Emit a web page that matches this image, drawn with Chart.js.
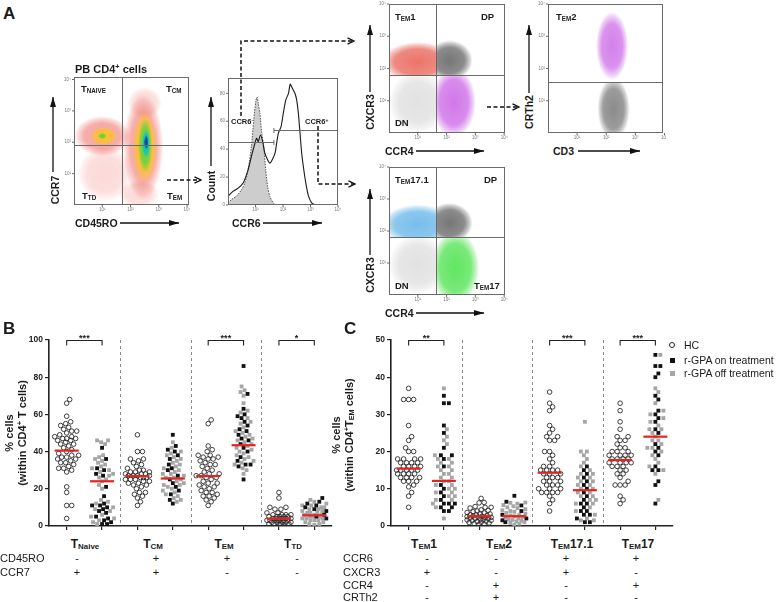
<!DOCTYPE html>
<html>
<head>
<meta charset="utf-8">
<title>CD4 T cell subsets</title>
<script src="https://cdn.jsdelivr.net/npm/chart.js@4.4.1/dist/chart.umd.min.js"></script>
<style>
  html, body { margin: 0; background: #fff; }
  #fig { position: relative; width: 778px; height: 602px; overflow: hidden;
         font-family: Arial, "Liberation Sans", Helvetica, sans-serif; color: #1b1b1b; }
  #fig canvas { position: absolute; }
  .t { position: absolute; white-space: nowrap; line-height: 1; }
  .b { font-weight: bold; }
  .c { transform: translateX(-50%); }
  .r { transform: translate(-50%, -50%) rotate(-90deg); text-align: center; }
  .r2 { line-height: 13px; }
  .t sub { font-size: 0.66em; vertical-align: -0.12em; line-height: 0; }
  .t sup { font-size: 0.66em; vertical-align: 0.5em; line-height: 0; }
  .mk { position: absolute; box-sizing: border-box; }
  svg { position: absolute; left: 0; top: 0; }
</style>
</head>
<body>
<div id="fig">
  <div id="plots"></div>
  <div id="labels"></div>
  <svg width="778" height="602">
    <defs>
      <marker id="tri" viewBox="0 0 10 6" refX="10" refY="3" markerWidth="10" markerHeight="6"
              markerUnits="userSpaceOnUse" orient="auto"><path d="M0,0L10,3L0,6z" fill="#111"/></marker>
      <marker id="chev" viewBox="0 0 8 8" refX="7.5" refY="4" markerWidth="8" markerHeight="8"
              markerUnits="userSpaceOnUse" orient="auto"><path d="M1,0.8L7.5,4L1,7.2" fill="none" stroke="#111" stroke-width="1.3"/></marker>
    </defs>
    <!-- axis arrows -->
    <g stroke="#111" stroke-width="1.3" fill="none" marker-end="url(#tri)">
      <path d="M53,172V97"/>
      <path d="M120,223H179"/>
      <path d="M211,166V97"/>
      <path d="M263,223H322"/>
      <path d="M370,92V25"/>
      <path d="M416,151H484"/>
      <path d="M529,93V25"/>
      <path d="M578,151H640"/>
      <path d="M370,255V189"/>
      <path d="M416,313H484"/>
    </g>
    <!-- gating flow -->
    <g stroke="#111" stroke-width="1.5" stroke-dasharray="4 2.5" fill="none" marker-end="url(#chev)">
      <path d="M167,180H201"/>
      <path d="M241,116V41H354"/>
      <path d="M318,126V184H355"/>
      <path d="M487,107H519"/>
    </g>
  </svg>
</div>
<script>
// ---------------- panel A (positions in log decades) ----------------
const flowTicks = [1, 2, 3, 4];
const flowTickText = ['10¹', '10²', '10³', '10⁴'];

// CD45RO x CCR7 pseudocolour clouds: centre and half spread
const pbSparse = [{x:1.1,y:1.0,w:0.95,h:0.9}, {x:2.3,y:0.35,w:0.7,h:0.45}, {x:2.5,y:3.25,w:0.6,h:0.5}];
const pbRed    = [{x:1.0,y:2.2,w:1.0,h:0.65}, {x:2.45,y:1.85,w:0.72,h:1.7}];
const pbYellow = [{x:1.05,y:2.2,w:0.45,h:0.3}, {x:2.5,y:1.85,w:0.42,h:1.15}];
const pbGreen  = [{x:2.52,y:1.9,w:0.26,h:0.85}, {x:1.0,y:2.2,w:0.15,h:0.1}];
const pbCyan   = [{x:2.55,y:1.95,w:0.15,h:0.45}];
const pbBlue   = [{x:2.56,y:2.0,w:0.07,h:0.22}];
const pbGate = {x: 1.69, y: 1.92};

// CCR6 histogram (isotype shaded vs stained)
const isoX  = [0, 0.12, 0.30, 0.49, 0.61, 0.73, 0.85, 0.94, 1.01, 1.06, 1.10, 1.16, 1.22, 1.30, 1.37, 1.44, 1.52, 1.65, 1.77];
const isoY  = [1.4, 3.8, 6.2, 10.9, 15.7, 25.2, 41.9, 61.4, 74.3, 77.4, 72.8, 65.7, 52.6, 41.9, 25.2, 13.3, 6.2, 1.4, 0];
const ccr6X = [0, 0.18, 0.37, 0.55, 0.73, 0.85, 0.98, 1.04, 1.10, 1.18, 1.26, 1.34, 1.44, 1.52, 1.61, 1.71, 1.77, 1.83,
               1.93, 2.01, 2.10, 2.20, 2.26, 2.32, 2.38, 2.44, 2.50, 2.56, 2.62, 2.68, 2.74, 2.83, 2.93, 3.05, 3.17];
const ccr6Y = [6.2, 9.8, 12.1, 15.7, 25.2, 34.7, 44.3, 47.8, 45.5, 50.2, 45.5, 37.1, 32.4, 30.0, 32.4, 37.1, 44.3, 51.4,
               56.2, 65.7, 75.2, 80.0, 86.6, 84.5, 82.1, 79.7, 75.0, 65.5, 51.2, 37.1, 27.6, 15.7, 6.2, 1.4, 0];
const histYTicks = [0, 20, 40, 60, 80];
const ccr6Neg = {x0: 0, x1: 1.67, y: 45.2};
const ccr6Pos = {x0: 1.67, x1: 4, y: 53.6};

// CCR4 x CXCR3 (CCR6- and CCR6+) and CD3 x CRTh2
const cxGate = {x: 1.65, y: 1.8};
const tem1Red    = [{x:1.0,y:2.2,w:1.25,h:0.62}];
const dpGray     = [{x:2.1,y:2.25,w:0.8,h:0.62}];
const dnGray     = [{x:1.0,y:0.95,w:1.0,h:0.95}];
const tem1Purple = [{x:2.25,y:0.95,w:0.75,h:1.1}];
const crthGate = 1.58;
const tem2Purple = [{x:2.2,y:2.7,w:0.55,h:1.05}];
const tem2Gray   = [{x:2.25,y:0.75,w:0.55,h:0.95}];
const tem171Blue = [{x:1.0,y:2.2,w:1.25,h:0.62}];
const tem17Green = [{x:2.3,y:0.85,w:0.85,h:1.15}];

// ---------------- panel B: % of CD4+ T cells ----------------
const bNaiveHC  = [68, 66, 59, 56, 55, 54, 53, 52, 51, 51, 50, 49, 48, 48, 47, 47, 47, 46, 46, 45, 44, 44, 43, 42, 41, 40, 39, 38, 38, 37, 37, 36, 36, 35, 34, 34, 33, 32, 31, 31, 30, 29, 21, 18, 11, 11, 4];
const bNaiveOn  = [42, 36, 31, 30, 28, 27, 21, 16, 12, 11, 11, 10, 9, 8, 7, 5, 4, 3, 2, 1, 1];
const bNaiveOff = [46, 46, 45, 44, 38, 37, 36, 35, 34, 33, 32, 31, 30, 29, 28, 27, 26, 25, 24, 22, 20, 14, 13, 12, 10, 9, 8, 6, 5, 4, 3, 2, 1];
const bCmHC  = [49, 40, 40, 36, 36, 35, 34, 33, 32, 31, 30, 30, 29, 29, 29, 28, 28, 28, 27, 27, 27, 27, 26, 26, 26, 25, 25, 25, 24, 24, 23, 23, 22, 22, 21, 20, 18, 18, 17, 16, 15, 13, 11];
const bCmOn  = [49, 43, 41, 40, 38, 36, 33, 31, 30, 27, 25, 23, 21, 19, 17, 14, 12];
const bCmOff = [45, 42, 40, 39, 38, 37, 36, 35, 34, 33, 32, 31, 30, 29, 28, 28, 27, 26, 26, 25, 24, 23, 22, 22, 21, 20, 19, 18, 17, 16, 15, 14, 13];
const bEmHC  = [57, 55, 43, 41, 40, 38, 38, 37, 37, 36, 36, 35, 34, 33, 33, 32, 31, 30, 29, 28, 28, 27, 27, 26, 26, 25, 24, 23, 23, 22, 21, 21, 20, 19, 18, 18, 17, 16, 16, 15, 14, 13, 11];
const bEmOn  = [86, 71, 63, 60, 59, 58, 56, 54, 52, 51, 49, 47, 46, 44, 42, 40, 37, 35, 33, 33, 32, 25];
const bEmOff = [75, 73, 72, 70, 66, 62, 61, 58, 56, 55, 53, 51, 50, 49, 48, 47, 46, 45, 44, 43, 42, 41, 40, 39, 38, 37, 36, 35, 34, 33, 31, 30, 28];
const bTdHC  = [18, 15, 10, 10, 9, 9, 7, 7, 6, 6, 6, 6, 5, 5, 5, 5, 5, 4, 4, 4, 4, 4, 4, 3, 3, 3, 3, 3, 3, 3, 2, 2, 2, 2, 2, 1, 1, 1, 1, 0.5, 0.5];
const bTdOn  = [15, 13, 12, 11, 10, 9, 8, 6, 5, 4];
const bTdOff = [14, 13, 12, 11, 11, 10, 10, 9, 9, 8, 8, 7, 7, 7, 6, 6, 6, 5, 5, 5, 4, 4, 4, 3, 3, 3, 2, 2, 1, 1, 0.5];
const bMeans = [40.5, 24, 26.8, 25.5, 26.8, 43.4, 3.9, 5.7];
const bBrackets = [[0.5, 1.5, '***'], [4.5, 5.5, '***'], [6.5, 7.5, '*']];
const bCats = ['T<sub>Naive</sub>', 'T<sub>CM</sub>', 'T<sub>EM</sub>', 'T<sub>TD</sub>'];
const bRows = ['CD45RO', 'CCR7'];
const bSigns = [['-', '+', '+', '-'], ['+', '+', '-', '-']];

// ---------------- panel C: % of CD4+ TEM cells ----------------
const cEm1HC  = [37, 34, 34, 34, 27, 24, 23, 21, 20, 20, 18, 18, 18, 18, 17, 17, 17, 17, 16, 16, 16, 16, 15, 15, 15, 15, 15, 14, 14, 14, 14, 13, 13, 13, 13, 12, 12, 12, 11, 10.5, 9, 8, 5];
const cEm1On  = [35, 33, 33, 27, 25, 21, 19, 19, 18, 16, 11, 10, 9, 8, 7, 6, 6, 6, 5, 5, 4, 4];
const cEm1Off = [37, 26, 24, 23, 22, 19, 18, 18, 17, 17, 16, 16, 15, 15, 14, 14, 13, 13, 12, 12, 11, 11, 10, 10, 9, 9, 8, 8, 7, 7, 6, 5, 2];
const cEm2HC  = [7.4, 6.3, 6.2, 5.2, 5.0, 5.0, 4.8, 4.3, 4.2, 4.0, 3.8, 3.6, 3.5, 3.3, 3.2, 3.0, 3.0, 2.8, 2.7, 2.6, 2.5, 2.4, 2.3, 2.2, 2.1, 2.0, 2.0, 1.8, 1.7, 1.6, 1.5, 1.4, 1.3, 1.2, 1.0, 0.9, 0.8, 0.6, 0.5, 0.4];
const cEm2On  = [8.1, 6.5, 5.5, 4.0, 3.0, 2.0, 1.5, 1.0];
const cEm2Off = [6.3, 6.2, 6.0, 5.6, 5.3, 5.0, 4.8, 4.5, 4.2, 4.0, 3.8, 3.5, 3.3, 3.0, 2.8, 2.6, 2.4, 2.2, 2.0, 1.8, 1.6, 1.4, 1.2, 1.0, 0.8, 0.6, 0.3];
const cEm171HC  = [36, 33, 32, 31, 27, 26, 25, 24, 24, 23, 23, 20, 20, 19, 18, 17, 16, 16, 15, 15, 15, 15, 14, 14, 14, 13, 13, 13, 12, 12, 12, 11, 11, 11, 10, 10, 10, 9, 9, 9, 9, 8, 7, 6, 4];
const cEm171On  = [16, 15, 14, 13, 12, 11, 10, 9, 8, 7, 6, 6, 5, 4, 4, 3, 3, 2, 1, 1];
const cEm171Off = [28, 20, 20, 19, 18, 17, 16, 15, 14, 14, 13, 13, 12, 12, 11, 11, 10, 10, 9, 9, 8, 8, 7, 7, 6, 6, 5, 4, 3, 2, 1.5, 1.5];
const cEm17HC  = [33, 31, 28, 26, 24, 24, 23, 23, 22, 21, 21, 20, 20, 20, 19, 19, 19, 19, 18, 18, 18, 18, 17, 17, 17, 17, 16, 16, 16, 15, 15, 14, 14, 13, 12, 11, 11, 11, 8, 7, 6];
const cEm17On  = [46, 43, 43, 41, 40, 35, 34, 31, 30, 29, 28, 26, 25, 22, 21, 20, 19, 16, 15, 15, 12, 11, 6];
const cEm17Off = [46, 37, 36, 33, 31, 30, 29, 28, 27, 26, 26, 25, 24, 23, 23, 22, 21, 21, 20, 19, 18, 17, 16, 15, 14, 7];
const cMeans = [15.4, 12.1, 2.6, 2.6, 14.3, 9.6, 17.7, 24];
const cBrackets = [[0.5, 1.5, '**'], [4.5, 5.5, '***'], [6.5, 7.5, '***']];
const cCats = ['T<sub>EM</sub>1', 'T<sub>EM</sub>2', 'T<sub>EM</sub>17.1', 'T<sub>EM</sub>17'];
const cRows = ['CCR6', 'CXCR3', 'CCR4', 'CRTh2'];
const cSigns = [['-', '-', '+', '+'], ['+', '-', '+', '-'], ['-', '+', '-', '+'], ['-', '+', '-', '-']];
const groupSeps = [2, 4, 6];

// ---------------- helpers ----------------
Chart.defaults.font.family = 'Arial, "Liberation Sans", sans-serif';
Chart.defaults.color = '#1b1b1b';
const plots = document.getElementById('plots');
const labels = document.getElementById('labels');

function addCanvas(x, y, w, h) {
  const cv = document.createElement('canvas');
  cv.width = w; cv.height = h;
  cv.style.cssText = `left:${x}px;top:${y}px;width:${w}px;height:${h}px`;
  plots.appendChild(cv);
  return cv;
}

function txt(x, y, html, size, cls) {
  const d = document.createElement('div');
  d.className = 't ' + (cls || '');
  d.style.left = x + 'px';
  d.style.top = y + 'px';
  d.style.fontSize = size + 'px';
  d.innerHTML = html;
  labels.appendChild(d);
  return d;
}

// soft elliptical cloud used as a point image
const blobCache = {};
function blobImage(rgb, alpha, rx, ry) {
  rx = Math.max(1, Math.round(rx)); ry = Math.max(1, Math.round(ry));
  const key = [rgb, alpha, rx, ry].join('|');
  if (blobCache[key]) return blobCache[key];
  const cv = document.createElement('canvas');
  cv.width = rx * 2; cv.height = ry * 2;
  const g = cv.getContext('2d');
  g.translate(rx, ry); g.scale(rx, ry);
  const grad = g.createRadialGradient(0, 0, 0, 0, 0, 1);
  grad.addColorStop(0, `rgba(${rgb},${alpha})`);
  grad.addColorStop(0.65, `rgba(${rgb},${alpha * 0.85})`);
  grad.addColorStop(0.88, `rgba(${rgb},${alpha * 0.35})`);
  grad.addColorStop(1, `rgba(${rgb},0)`);
  g.fillStyle = grad;
  g.beginPath(); g.arc(0, 0, 1, 0, Math.PI * 2); g.fill();
  return (blobCache[key] = cv);
}

function cloud(points, rgb, alpha, quad) {
  return {
    data: points, quad, pointRadius: 1, pointHoverRadius: 1, pointBorderWidth: 0,
    pointStyle: ctx => {
      const p = ctx.raw;
      if (!p || p.w == null) return 'circle';
      const xs = ctx.chart.scales.x, ys = ctx.chart.scales.y;
      const rx = Math.abs(xs.getPixelForValue(p.w) - xs.getPixelForValue(0));
      const ry = Math.abs(ys.getPixelForValue(p.h) - ys.getPixelForValue(0));
      return blobImage(rgb, alpha, rx, ry);
    }
  };
}

// frame, gates and tiny log ticks of a flow plot
function frameDecor(o) {
  return {
    id: 'frameDecor',
    beforeDatasetDraw(chart, args) {
      const q = chart.data.datasets[args.index].quad;
      if (!q) return;
      const xs = chart.scales.x, ys = chart.scales.y, c = chart.ctx, a = chart.chartArea;
      const x0 = Math.max(a.left, xs.getPixelForValue(q[0])), x1 = Math.min(a.right, xs.getPixelForValue(q[1]));
      const y0 = Math.min(a.bottom, ys.getPixelForValue(q[2])), y1 = Math.max(a.top, ys.getPixelForValue(q[3]));
      c.save(); c.beginPath(); c.rect(x0, y1, x1 - x0, y0 - y1); c.clip();
    },
    afterDatasetDraw(chart, args) {
      if (chart.data.datasets[args.index].quad) chart.ctx.restore();
    },
    afterDraw(chart) {
      const xs = chart.scales.x, ys = chart.scales.y, c = chart.ctx, a = chart.chartArea;
      c.save();
      c.strokeStyle = '#6a6a6a'; c.lineWidth = 1;
      c.strokeRect(a.left + 0.5, a.top + 0.5, a.width - 1, a.height - 1);
      c.beginPath();
      if (o.gx != null) { const px = Math.round(xs.getPixelForValue(o.gx)) + 0.5; c.moveTo(px, a.top); c.lineTo(px, a.bottom); }
      if (o.gy != null) { const py = Math.round(ys.getPixelForValue(o.gy)) + 0.5; c.moveTo(a.left, py); c.lineTo(a.right, py); }
      (o.segs || []).forEach(s => {
        const py = Math.round(ys.getPixelForValue(s.y)) + 0.5;
        const l = xs.getPixelForValue(s.x0), r = xs.getPixelForValue(s.x1);
        c.moveTo(l, py); c.lineTo(r, py);
        const tx = s.x0 > 0 ? l : r;
        c.moveTo(tx, py - 2.5); c.lineTo(tx, py + 2.5);
      });
      o.xt.forEach(v => { const px = xs.getPixelForValue(v); c.moveTo(px, a.bottom); c.lineTo(px, a.bottom + 2); });
      o.yt.forEach(v => { const py = ys.getPixelForValue(v); c.moveTo(a.left, py); c.lineTo(a.left - 2, py); });
      c.stroke();
      c.fillStyle = '#777'; c.font = '4.5px Arial';
      c.textAlign = 'center'; c.textBaseline = 'top';
      o.xt.forEach((v, i) => c.fillText(o.xl[i], xs.getPixelForValue(v), a.bottom + 3));
      c.textAlign = 'right'; c.textBaseline = 'middle';
      o.yt.forEach((v, i) => c.fillText(o.yl[i], a.left - 3, ys.getPixelForValue(v)));
      c.restore();
    }
  };
}

function flowChart(box, layers, o) {
  const pad = {left: 12, top: 3, right: 3, bottom: 10};
  const cv = addCanvas(box.x - pad.left, box.y - pad.top, box.w + pad.left + pad.right, box.h + pad.top + pad.bottom);
  layers.forEach((d, i) => { d.order = layers.length - i; });
  return new Chart(cv, {
    type: 'scatter',
    data: { datasets: layers },
    options: {
      responsive: false, animation: false, events: [],
      layout: { padding: pad },
      plugins: { legend: { display: false }, tooltip: { enabled: false } },
      scales: {
        x: { display: false, min: 0, max: o.xMax },
        y: { display: false, min: 0, max: o.yMax }
      }
    },
    plugins: [frameDecor(o)]
  });
}

// ---------------- panel A charts ----------------
const logAxes = { xt: flowTicks, xl: flowTickText, yt: flowTicks, yl: flowTickText };
const UL = [0, cxGate.x, cxGate.y, 9], UR = [cxGate.x, 9, cxGate.y, 9];
const LL = [0, cxGate.x, 0, cxGate.y], LR = [cxGate.x, 9, 0, cxGate.y];

flowChart({x: 74, y: 77, w: 115, h: 128}, [
  cloud(pbSparse, '232,45,35', 0.18),
  cloud(pbRed, '232,45,35', 0.45),
  cloud(pbYellow, '255,205,0', 0.75),
  cloud(pbGreen, '70,215,70', 0.85),
  cloud(pbCyan, '0,190,225', 0.9),
  cloud(pbBlue, '25,40,150', 0.9)
], Object.assign({xMax: 4.07, yMax: 4.08, gx: pbGate.x, gy: pbGate.y}, logAxes));

flowChart({x: 228, y: 78, w: 110, h: 127}, [
  { data: isoX.map((x, i) => ({x, y: isoY[i]})), showLine: true, fill: 'origin', backgroundColor: '#cdcdcd',
    borderColor: '#555', borderWidth: 1, borderDash: [1.5, 1.2], pointRadius: 0, tension: 0.25 },
  { data: ccr6X.map((x, i) => ({x, y: ccr6Y[i]})), showLine: true, fill: false,
    borderColor: '#1a1a1a', borderWidth: 1.1, pointRadius: 0, tension: 0.25 }
], { xMax: 4, yMax: 91, xt: flowTicks, xl: flowTickText, yt: histYTicks, yl: histYTicks.map(String),
     segs: [ccr6Neg, ccr6Pos] });

flowChart({x: 389, y: 4, w: 116, h: 129}, [
  cloud(dnGray, '110,110,110', 0.2, LL),
  cloud(tem1Red, '232,92,80', 0.85, UL),
  cloud(dpGray, '95,95,95', 0.85, UR),
  cloud(tem1Purple, '198,85,228', 0.8, LR)
], Object.assign({xMax: 4.03, yMax: 4.0, gx: cxGate.x, gy: cxGate.y}, logAxes));

flowChart({x: 548, y: 4, w: 115, h: 129}, [
  cloud(tem2Purple, '198,85,228', 0.75, [0, 9, crthGate, 9]),
  cloud(tem2Gray, '100,100,100', 0.75, [0, 9, 0, crthGate])
], Object.assign({xMax: 3.95, yMax: 4.0, gy: crthGate}, logAxes));

flowChart({x: 389, y: 167, w: 116, h: 128}, [
  cloud(dnGray, '110,110,110', 0.2, LL),
  cloud(tem171Blue, '95,178,232', 0.85, UL),
  cloud(dpGray, '95,95,95', 0.85, UR),
  cloud(tem17Green, '70,225,70', 0.85, LR)
], Object.assign({xMax: 4.03, yMax: 4.0, gx: cxGate.x, gy: cxGate.y}, logAxes));

// ---------------- panels B and C ----------------
function dotDecor(brackets) {
  return {
    id: 'dotDecor',
    beforeDatasetsDraw(chart) {
      const xs = chart.scales.x, c = chart.ctx, a = chart.chartArea;
      c.save();
      c.strokeStyle = '#8a8a8a'; c.lineWidth = 1; c.setLineDash([3, 3]);
      c.beginPath();
      groupSeps.forEach(v => {
        const px = Math.round(xs.getPixelForValue(v)) + 0.5;
        c.moveTo(px, a.top); c.lineTo(px, a.bottom);
      });
      c.stroke();
      c.restore();
    },
    afterDatasetsDraw(chart) {
      const xs = chart.scales.x, ys = chart.scales.y, c = chart.ctx;
      const t = Math.round(ys.getPixelForValue(ys.max)) + 0.5;
      c.save();
      c.strokeStyle = '#222'; c.lineWidth = 1.1;
      c.fillStyle = '#222'; c.font = 'bold 9px Arial'; c.textAlign = 'center'; c.textBaseline = 'alphabetic';
      brackets.forEach(([x0, x1, label]) => {
        const l = xs.getPixelForValue(x0), r = xs.getPixelForValue(x1);
        c.beginPath(); c.moveTo(l, t + 5); c.lineTo(l, t); c.lineTo(r, t); c.lineTo(r, t + 5); c.stroke();
        c.fillText(label, (l + r) / 2, t);
      });
      c.restore();
    }
  };
}

// bee swarm: spread equal values sideways through the chart's own scales
function swarm(chart, items, cx, dist) {
  const xs = chart.scales.x, ys = chart.scales.y;
  const pxPerUnit = xs.getPixelForValue(1) - xs.getPixelForValue(0);
  const placed = [];
  items.slice().sort((a, b) => a.v - b.v).forEach(it => {
    const py = ys.getPixelForValue(it.v);
    let best = 0, bestGap = -1;
    for (let k = 0; k <= 24; k++) {
      const off = (k % 2 ? 1 : -1) * Math.ceil(k / 2);
      let gap = Infinity;
      placed.forEach(p => { gap = Math.min(gap, Math.hypot(p.x - off, p.y - py)); });
      if (gap >= dist) { best = off; break; }
      if (gap > bestGap) { bestGap = gap; best = off; }
    }
    placed.push({x: best, y: py});
    it.x = cx + best / pxPerUnit;
  });
}

function dotChart(x, y, o) {
  const cv = addCanvas(x, y, o.w, 203);
  const centers = [0.5, 1.5, 2.5, 3.5, 4.5, 5.5, 6.5, 7.5];
  const axisStyle = {
    grid: { drawOnChartArea: false, tickLength: 4, color: '#222', lineWidth: 1.2 },
    border: { color: '#222', width: 1.6 }
  };
  const lines = o.means.map((m, i) => ({
    type: 'line', data: [{x: centers[i] - 0.34, y: m}, {x: centers[i] + 0.34, y: m}],
    showLine: true, borderColor: '#e4231f', borderWidth: 2.2, pointRadius: 0, order: 0
  }));
  const hcSet  = { data: [], pointStyle: 'circle', pointRadius: 2.3, pointBorderWidth: 0.9,
                   pointBorderColor: '#2a2a2a', pointBackgroundColor: 'rgba(255,255,255,0)', order: 1 };
  const onSet  = { data: [], pointStyle: 'rect', pointRadius: 2.7, pointBorderWidth: 0,
                   pointBackgroundColor: '#111', order: 1 };
  const offSet = { data: [], pointStyle: 'rect', pointRadius: 2.7, pointBorderWidth: 0,
                   pointBackgroundColor: '#a6a6a6', order: 2 };
  const chart = new Chart(cv, {
    type: 'scatter',
    data: { datasets: [...lines, hcSet, onSet, offSet] },
    options: {
      responsive: false, animation: false, events: [],
      layout: { padding: { top: 10, right: o.w - o.right, left: 0, bottom: 0 } },
      plugins: { legend: { display: false }, tooltip: { enabled: false } },
      scales: {
        x: Object.assign({ type: 'linear', min: 0, max: 8,
          afterBuildTicks: s => { s.ticks = centers.map(v => ({ value: v })); },
          afterFit: s => { s.height = 6; },
          ticks: { display: false } }, axisStyle),
        y: Object.assign({ min: 0, max: o.yMax,
          afterFit: s => { s.width = 49; },
          ticks: { stepSize: o.step, font: { size: 8.5, weight: 'bold' }, color: '#222', padding: 2 } }, axisStyle)
      }
    },
    plugins: [dotDecor(o.brackets)]
  });
  o.hc.forEach((vals, i) => {
    const items = vals.map(v => ({v}));
    swarm(chart, items, centers[2 * i], 4.7);
    items.forEach(it => hcSet.data.push({x: it.x, y: it.v}));
  });
  o.on.forEach((vals, i) => {
    const items = vals.map(v => ({v, on: true})).concat(o.off[i].map(v => ({v, on: false})));
    swarm(chart, items, centers[2 * i + 1], 4.3);
    items.forEach(it => (it.on ? onSet : offSet).data.push({x: it.x, y: it.v}));
  });
  chart.update('none');
  return chart;
}

dotChart(0, 330, {
  w: 340, right: 332, yMax: 100, step: 20, means: bMeans, brackets: bBrackets,
  hc: [bNaiveHC, bCmHC, bEmHC, bTdHC],
  on: [bNaiveOn, bCmOn, bEmOn, bTdOn],
  off: [bNaiveOff, bCmOff, bEmOff, bTdOff]
});
dotChart(342, 330, {
  w: 339, right: 331, yMax: 50, step: 10, means: cMeans, brackets: cBrackets,
  hc: [cEm1HC, cEm2HC, cEm171HC, cEm17HC],
  on: [cEm1On, cEm2On, cEm171On, cEm17On],
  off: [cEm1Off, cEm2Off, cEm171Off, cEm17Off]
});

// ---------------- text ----------------
txt(3, 5, 'A', 17, 'b');
txt(3, 320, 'B', 17, 'b');
txt(344, 320, 'C', 17, 'b');

txt(75, 64, 'PB CD4<sup>+</sup> cells', 11, 'b');
txt(81, 84, 'T<sub>NAIVE</sub>', 9.5, 'b');
txt(166, 84, 'T<sub>CM</sub>', 9.5, 'b');
txt(82, 191, 'T<sub>TD</sub>', 9.5, 'b');
txt(167, 191, 'T<sub>EM</sub>', 9.5, 'b');
txt(55, 190, 'CCR7', 10.5, 'b r');
txt(75, 218, 'CD45RO', 10.5, 'b');

txt(231, 118, 'CCR6<sup>-</sup>', 7.5, 'b');
txt(305, 118, 'CCR6<sup>+</sup>', 7.5, 'b');
txt(211, 186, 'Count', 10.5, 'b r');
txt(232, 218, 'CCR6', 10.5, 'b');

txt(395, 12, 'T<sub>EM</sub>1', 9.5, 'b');
txt(481, 12, 'DP', 9.5, 'b');
txt(395, 118, 'DN', 9.5, 'b');
txt(370, 112, 'CXCR3', 10.5, 'b r');
txt(385, 146, 'CCR4', 10.5, 'b');

txt(556, 12, 'T<sub>EM</sub>2', 9.5, 'b');
txt(529, 112, 'CRTh2', 10.5, 'b r');
txt(553, 146, 'CD3', 10.5, 'b');

txt(395, 175, 'T<sub>EM</sub>17.1', 9.5, 'b');
txt(484, 175, 'DP', 9.5, 'b');
txt(395, 281, 'DN', 9.5, 'b');
txt(474, 281, 'T<sub>EM</sub>17', 9.5, 'b');
txt(370, 275, 'CXCR3', 10.5, 'b r');
txt(385, 308, 'CCR4', 10.5, 'b');

// axis titles and category labels
txt(16, 433, '% cells<br>(within CD4<sup>+</sup> T cells)', 11, 'b r r2');
txt(343, 435, '% cells<br>(within CD4<sup>+</sup>T<sub>EM</sub> cells)', 11, 'b r r2');

const bCatX = [85, 153, 224, 293], bSignX = [77, 156, 227, 297];
const cCatX = [424, 499, 572, 638], cSignX = [427, 496, 566, 636];
const rowTops = [552.5, 566.5, 579.5, 591.5];
bCats.forEach((h, i) => txt(bCatX[i], 538, h, 12, 'b c'));
cCats.forEach((h, i) => txt(cCatX[i], 538, h, 12, 'b c'));
bRows.forEach((r, j) => {
  txt(0, rowTops[j], r, 11);
  bSigns[j].forEach((s, i) => txt(bSignX[i], rowTops[j], s, 11, 'c'));
});
cRows.forEach((r, j) => {
  txt(343, rowTops[j], r, 11);
  cSigns[j].forEach((s, i) => txt(cSignX[i], rowTops[j], s, 11, 'c'));
});

// legend of panel C
function marker(x, y, css) {
  const d = document.createElement('div');
  d.className = 'mk';
  d.style.cssText = `left:${x}px;top:${y}px;` + css;
  labels.appendChild(d);
}
marker(669, 342, 'width:6px;height:6px;border:1px solid #2a2a2a;border-radius:50%;');
marker(669.5, 357.5, 'width:5px;height:5px;background:#111;');
marker(669.5, 370.5, 'width:5px;height:5px;background:#a6a6a6;');
txt(684, 340, 'HC', 10.5);
txt(684, 355, 'r-GPA on treatment', 10.5);
txt(684, 368, 'r-GPA off treatment', 10.5);
</script>
</body>
</html>
